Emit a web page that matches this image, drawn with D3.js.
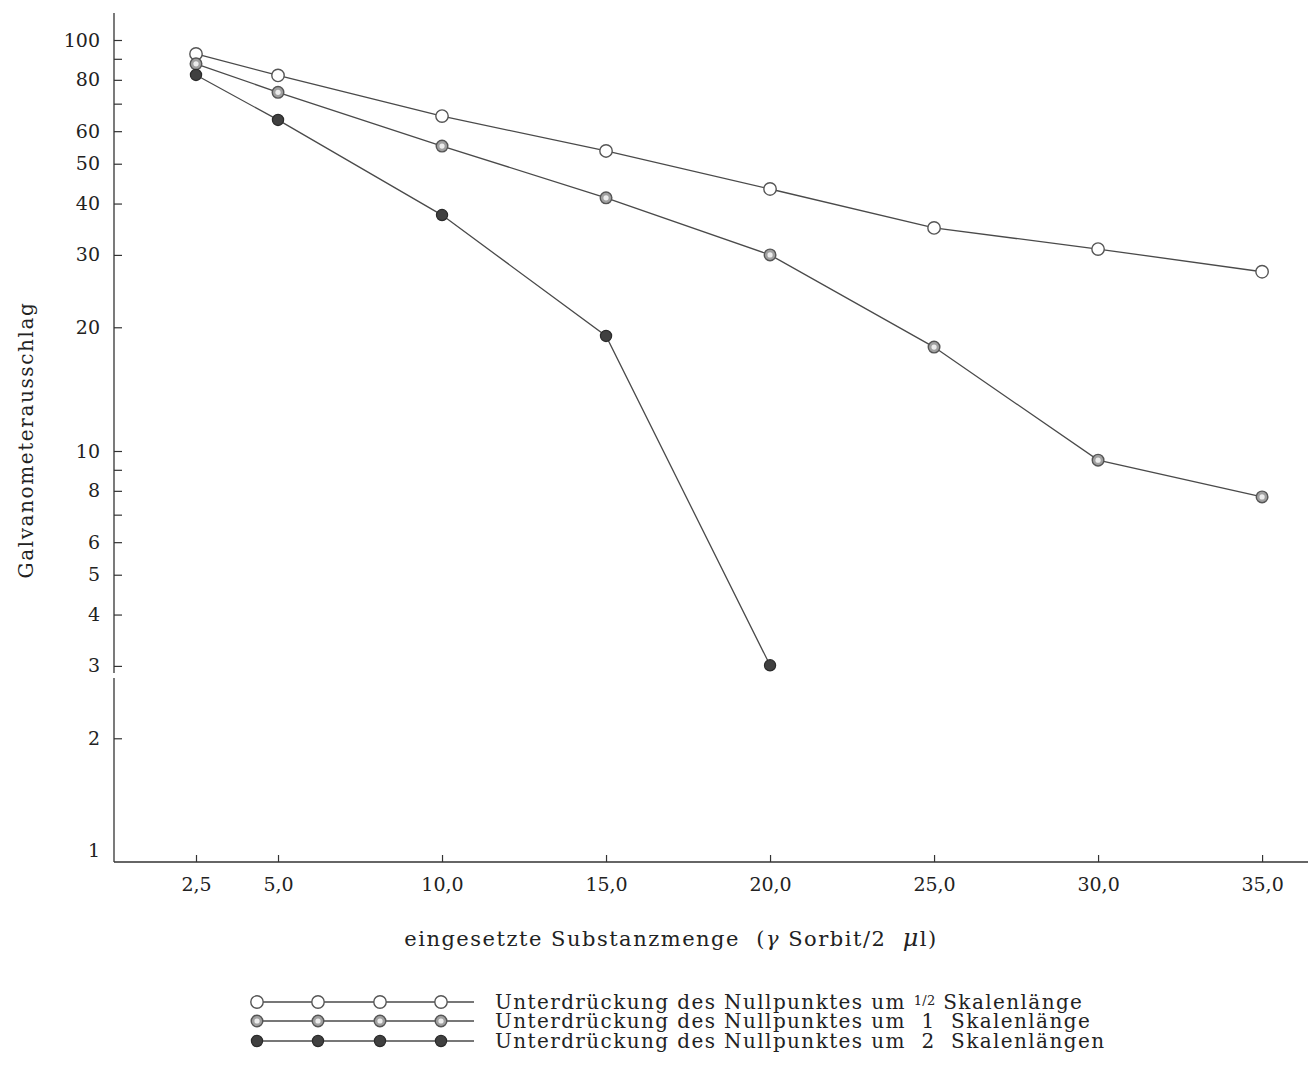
<!DOCTYPE html>
<html>
<head>
<meta charset="utf-8">
<script src="https://cdn.jsdelivr.net/npm/d3@7"></script>
<style>
  html, body { margin: 0; padding: 0; background: #ffffff; }
  svg { display: block; }
  text { font-family: "DejaVu Serif", "Liberation Serif", serif; fill: #222; }
</style>
</head>
<body>
<svg id="chart" width="1308" height="1074"></svg>
<script>
// ---- data ----
const xValues = [2.5, 5.0, 10.0, 15.0, 20.0, 25.0, 30.0, 35.0];
const xTickLabels = ["2,5", "5,0", "10,0", "15,0", "20,0", "25,0", "30,0", "35,0"];
const seriesHalf = [92.5, 82, 65.3, 53.7, 43.4, 34.9, 31.0, 27.3];      // 1/2 Skalenlänge
const seriesOne  = [87.5, 74.6, 55.2, 41.3, 30.0, 17.9, 9.5, 7.73];     // 1 Skalenlänge
const seriesTwo  = [82.2, 63.9, 37.5, 19.05, 3.01];                     // 2 Skalenlängen
const yMajorTicks = [1, 2, 3, 4, 5, 6, 8, 10, 20, 30, 40, 50, 60, 80, 100];
const yMinorTicks = [7, 9, 70, 90];
const legendLabels = [
  ["Unterdrückung des Nullpunktes um ", "1/2", " Skalenlänge"],
  ["Unterdrückung des Nullpunktes um  1  Skalenlänge"],
  ["Unterdrückung des Nullpunktes um  2  Skalenlängen"]
];

const svg = d3.select("#chart");
const x0 = 114, yBase = 862;
const x = d3.scaleLinear().domain([0, 36.4]).range([x0, 1308]);
const y = d3.scaleLog().domain([1, 100]).range([yBase, 40]);

const lineColor = "#4a4a4a";
const styles = [
  { fill: "#ffffff", stroke: "#555", sw: 1.4, r: 6.2, inner: null },
  { fill: "#a0a0a0", stroke: "#555", sw: 1.4, r: 5.8, inner: "#ececec" },
  { fill: "#404040", stroke: "#2a2a2a", sw: 1.2, r: 5.6, inner: null }
];
const allSeries = [seriesHalf, seriesOne, seriesTwo];

// ---- axes ----
svg.append("line").attr("x1", x0).attr("x2", x0).attr("y1", 13).attr("y2", 673)
  .attr("stroke", "#333").attr("stroke-width", 1.3);
svg.append("line").attr("x1", x0).attr("x2", x0).attr("y1", 678).attr("y2", yBase)
  .attr("stroke", "#333").attr("stroke-width", 1.3);
svg.append("line").attr("x1", x0).attr("x2", 1308).attr("y1", yBase).attr("y2", yBase)
  .attr("stroke", "#333").attr("stroke-width", 1.4);

const yAxis = d3.axisLeft(y).tickValues(yMajorTicks.filter(v => v > 1))
  .tickSize(-8).tickPadding(14).tickFormat(d3.format("d"));
const gy = svg.append("g").attr("transform", `translate(${x0},0)`).call(yAxis);
gy.select(".domain").remove();
gy.selectAll(".tick line").attr("stroke", "#333").attr("stroke-width", 1.2);
gy.selectAll(".tick text").attr("font-size", 19).attr("fill", "#222")
  .style("font-family", '"DejaVu Serif", serif');
svg.append("text").attr("x", x0 - 14).attr("y", y(1) - 11).attr("dy", "0.32em")
  .attr("text-anchor", "end").attr("font-size", 19).text("1");

const yMinor = d3.axisLeft(y).tickValues(yMinorTicks).tickSize(-8).tickFormat("");
const gym = svg.append("g").attr("transform", `translate(${x0},0)`).call(yMinor);
gym.select(".domain").remove();
gym.selectAll(".tick line").attr("stroke", "#333").attr("stroke-width", 1.2);

const xAxis = d3.axisBottom(x).tickValues(xValues).tickSize(-7).tickPadding(16)
  .tickFormat((d, i) => xTickLabels[i]);
const gx = svg.append("g").attr("transform", `translate(0,${yBase})`).call(xAxis);
gx.select(".domain").remove();
gx.selectAll(".tick line").attr("stroke", "#333").attr("stroke-width", 1.2);
gx.selectAll(".tick text").attr("font-size", 19).attr("fill", "#222")
  .style("font-family", '"DejaVu Serif", serif');

// axis titles
svg.append("text").attr("transform", "translate(33,440) rotate(-90)")
  .attr("text-anchor", "middle").attr("font-size", 20).attr("letter-spacing", 1.6)
  .text("Galvanometerausschlag");

const xt = svg.append("text").attr("x", 671).attr("y", 946).attr("text-anchor", "middle")
  .attr("font-size", 21).attr("letter-spacing", 1.5)
  .attr("xml:space", "preserve").style("white-space", "pre");
xt.append("tspan").text("eingesetzte Substanzmenge  (");
xt.append("tspan").attr("font-style", "italic").text("γ");
xt.append("tspan").text(" Sorbit/2  ");
xt.append("tspan").attr("font-style", "italic").attr("font-size", 24).text("μ");
xt.append("tspan").text("l)");

// ---- series ----
const line = d3.line().x(d => x(d[0])).y(d => y(d[1]));
allSeries.forEach((vals) => {
  const pts = vals.map((v, i) => [xValues[i], v]);
  svg.append("path").attr("d", line(pts)).attr("fill", "none")
    .attr("stroke", lineColor).attr("stroke-width", 1.3);
});
function drawMarker(g, cx, cy, st) {
  g.append("circle").attr("cx", cx).attr("cy", cy).attr("r", st.r)
    .attr("fill", st.fill).attr("stroke", st.stroke).attr("stroke-width", st.sw);
  if (st.inner) {
    g.append("circle").attr("cx", cx).attr("cy", cy).attr("r", st.r * 0.45)
      .attr("fill", st.inner);
  }
}
allSeries.forEach((vals, si) => {
  const g = svg.append("g");
  vals.forEach((v, i) => drawMarker(g, x(xValues[i]), y(v), styles[si]));
});

// ---- legend ----
const legRows = [1002, 1021, 1041];
const legMarkers = [257, 318, 380, 441];
legendLabels.forEach((parts, i) => {
  const ly = legRows[i];
  svg.append("line").attr("x1", legMarkers[0]).attr("x2", 474).attr("y1", ly).attr("y2", ly)
    .attr("stroke", lineColor).attr("stroke-width", 1.3);
  const g = svg.append("g");
  legMarkers.forEach(mx => drawMarker(g, mx, ly, styles[i]));
  const t = svg.append("text").attr("x", 495).attr("y", ly).attr("dy", "0.33em")
    .attr("font-size", 20).attr("letter-spacing", 1.4)
    .attr("xml:space", "preserve").style("white-space", "pre");
  if (parts.length === 3) {
    t.append("tspan").text(parts[0]);
    t.append("tspan").attr("font-size", 13).attr("dy", "-0.3em").attr("letter-spacing", 0.3).text(parts[1]);
    t.append("tspan").attr("dy", "0.2em").text(parts[2]);
  } else {
    t.text(parts[0]);
  }
});
</script>
</body>
</html>
